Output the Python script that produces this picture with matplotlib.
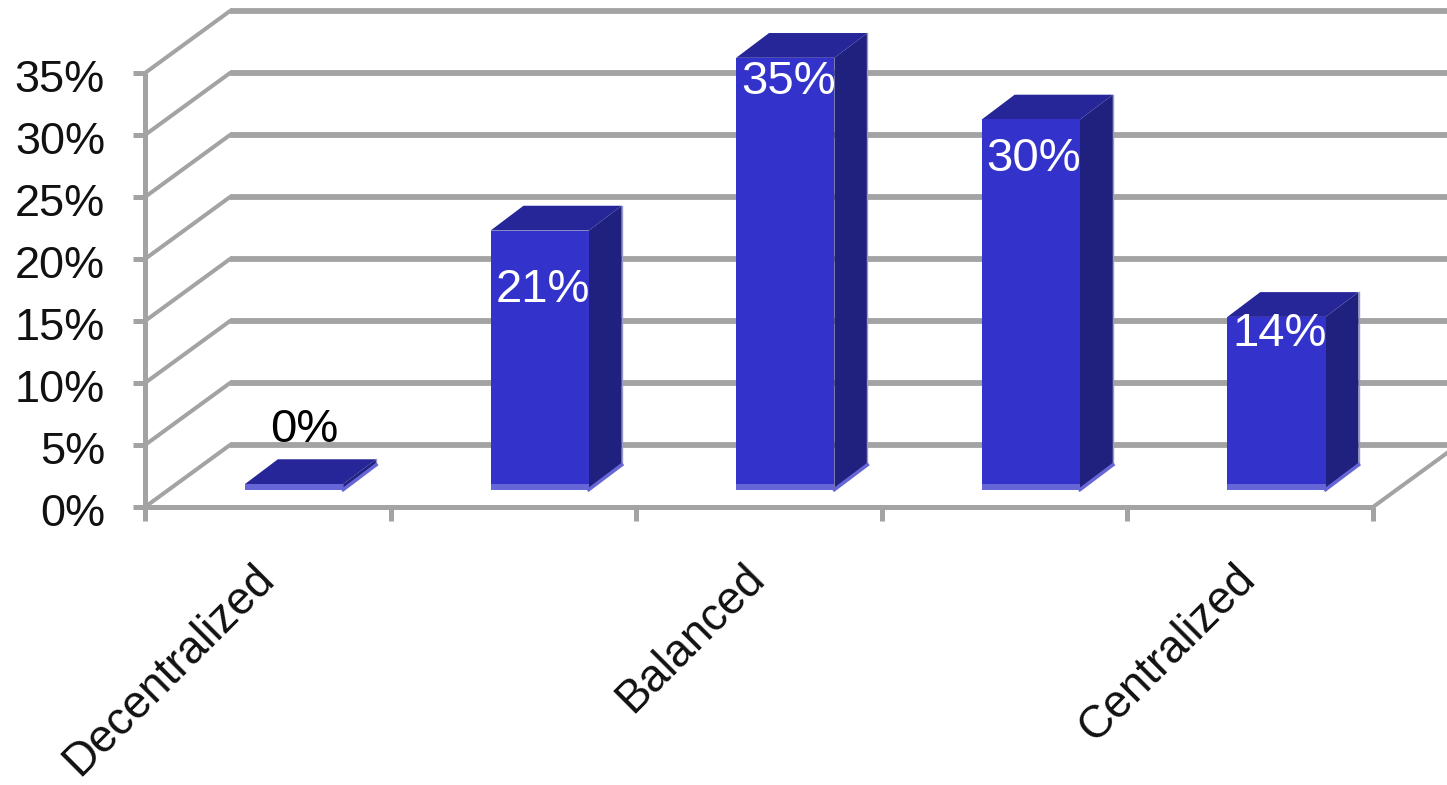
import matplotlib
matplotlib.use('Agg')
import matplotlib.pyplot as plt

categories = ['Decentralized', '', 'Balanced', '', 'Centralized']
values = [0, 21, 35, 30, 14]
y_ticks = [0, 5, 10, 15, 20, 25, 30, 35]

# picture layout, in data units (1 x unit = one category, 1 y unit = 1%)
DEPTH_X = 0.346
DEPTH_Y = 5.0
BAR_X = 0.407
BAR_W = 0.40
BAR_BASE = 1.4
SIDE_X = 0.134
SIDE_Y = 2.0
STRIP = 0.45
# label shift from the bar top, as the original chart placed them
label_dy = [4.4, -4.8, -1.97, -3.2, -1.4]
label_dx = [0.04, 0.012, 0.012, 0.012, 0.012]

FRONT = '#3333cc'
TOP = '#262699'
SIDE = '#20207f'
BASE = '#6666d6'
EDGE = '#9a9ac8'
GRID = '#a3a3a3'

plt.rcParams['font.family'] = ['Liberation Sans', 'DejaVu Sans']

fig = plt.figure(figsize=(14.47, 7.85), dpi=100)
ax = fig.add_axes([0, 0, 1, 1])
ax.set_xlim(-145 / 245.6, 1302 / 245.6)
ax.set_ylim(-278 / 12.4, 507 / 12.4)
ax.axis('off')

n = len(categories)

# back wall lines and left wall slants
for t in y_ticks:
    ax.plot([DEPTH_X, 5.4], [t + DEPTH_Y, t + DEPTH_Y], color=GRID, lw=4.2, solid_capstyle='butt', zorder=1)
    ax.plot([0, DEPTH_X], [t, t + DEPTH_Y], color=GRID, lw=2.9, solid_capstyle='round', zorder=1)
    ax.plot([-0.05, 0], [t, t], color=GRID, lw=3.6, solid_capstyle='butt', zorder=1)
    ax.text(-0.163, t - 0.6, '%d%%' % t, fontsize=32.5, ha='right', va='center', color='#111111')

# floor front edge, right slant, y axis and x ticks
ax.plot([0, n], [0, 0], color=GRID, lw=3.6, solid_capstyle='butt', zorder=1)
ax.plot([n, n + DEPTH_X], [0, DEPTH_Y], color=GRID, lw=2.9, zorder=1)
ax.plot([0, 0], [0, y_ticks[-1]], color=GRID, lw=3.6, solid_capstyle='butt', zorder=1)
for i in range(n + 1):
    ax.plot([i, i], [0, -1.1], color=GRID, lw=3.6, solid_capstyle='butt', zorder=1)

# bars
for i, v in enumerate(values):
    x0 = i + BAR_X
    x1 = x0 + BAR_W
    y0 = BAR_BASE
    y1 = y0 + max(v * 0.995, STRIP)
    ax.fill([x1, x1 + SIDE_X, x1 + SIDE_X, x1], [y0, y0 + SIDE_Y, y1 + SIDE_Y, y1], color=SIDE, lw=0, zorder=3)
    ax.plot([x1 + SIDE_X, x1 + SIDE_X], [y0 + SIDE_Y, y1 + SIDE_Y], color=EDGE, lw=1, zorder=3)
    ax.plot([x1, x1 + SIDE_X], [y0, y0 + SIDE_Y], color=BASE, lw=2.5, zorder=3)
    ax.fill([x0, x0 + SIDE_X, x1 + SIDE_X, x1], [y1, y1 + SIDE_Y, y1 + SIDE_Y, y1], color=TOP, lw=0, zorder=3)
    ax.bar(x0, y1 - y0, width=BAR_W, bottom=y0, align='edge', color=FRONT, lw=0, zorder=4)
    ax.bar(x0, STRIP, width=BAR_W, bottom=y0, align='edge', color=BASE, lw=0, zorder=5)
    ax.text(x0 + BAR_W / 2 + label_dx[i], y1 + label_dy[i], '%d%%' % v, fontsize=34,
            ha='center', va='center', color='black' if v == 0 else 'white', zorder=6)

# category labels, only every other one is set
for i, c in enumerate(categories):
    if c:
        ax.text(i + 0.497, -5.2, c, fontsize=32.8, rotation=45, rotation_mode='anchor',
                ha='right', va='center', color='#111111')

fig.savefig('out.png', dpi=100)
